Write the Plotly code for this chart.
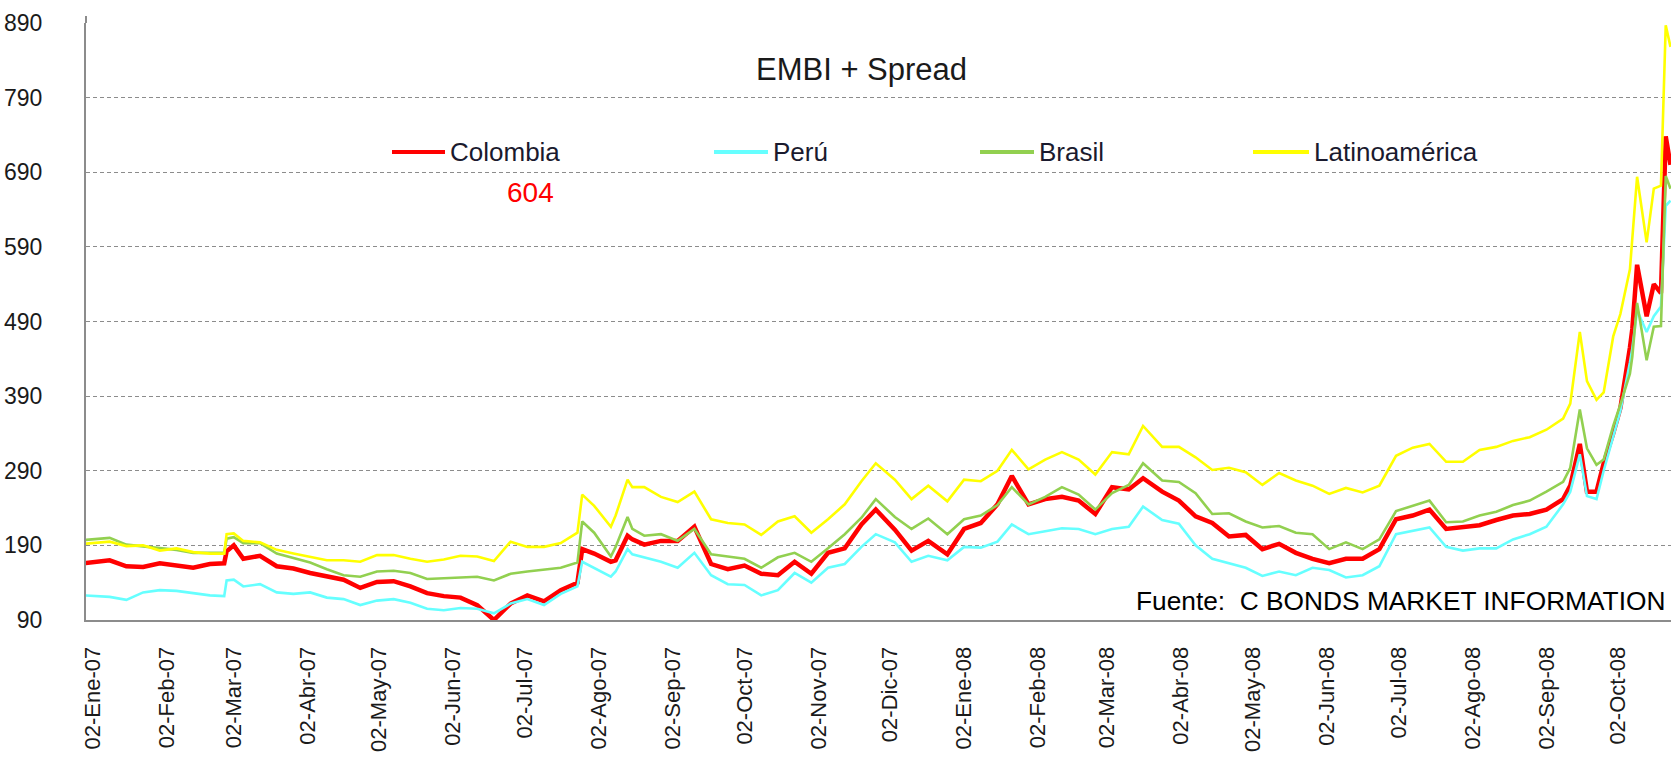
import plotly.graph_objects as go

dates = [
    "2006-12-29", "2007-01-09", "2007-01-16", "2007-01-23", "2007-01-30", "2007-02-06",
    "2007-02-13", "2007-02-20", "2007-02-26", "2007-02-27", "2007-03-02", "2007-03-06",
    "2007-03-13", "2007-03-20", "2007-03-27", "2007-04-03", "2007-04-10", "2007-04-17",
    "2007-04-24", "2007-05-01", "2007-05-08", "2007-05-15", "2007-05-22", "2007-05-29",
    "2007-06-05", "2007-06-12", "2007-06-19", "2007-06-26", "2007-07-03", "2007-07-10",
    "2007-07-17", "2007-07-24", "2007-07-26", "2007-07-31", "2007-08-07", "2007-08-09",
    "2007-08-14", "2007-08-16", "2007-08-21", "2007-08-28", "2007-09-04", "2007-09-11",
    "2007-09-18", "2007-09-25", "2007-10-02", "2007-10-09", "2007-10-16", "2007-10-23",
    "2007-10-30", "2007-11-06", "2007-11-13", "2007-11-20", "2007-11-26", "2007-12-04",
    "2007-12-11", "2007-12-18", "2007-12-26", "2008-01-02", "2008-01-09", "2008-01-16",
    "2008-01-22", "2008-01-29", "2008-02-05", "2008-02-12", "2008-02-19", "2008-02-26",
    "2008-03-04", "2008-03-11", "2008-03-17", "2008-03-25", "2008-04-01", "2008-04-08",
    "2008-04-15", "2008-04-22", "2008-04-29", "2008-05-06", "2008-05-13", "2008-05-20",
    "2008-05-27", "2008-06-03", "2008-06-10", "2008-06-17", "2008-06-24", "2008-07-01",
    "2008-07-08", "2008-07-15", "2008-07-22", "2008-07-29", "2008-08-05", "2008-08-12",
    "2008-08-19", "2008-08-26", "2008-09-02", "2008-09-09", "2008-09-12", "2008-09-16",
    "2008-09-19", "2008-09-23", "2008-09-26", "2008-09-30", "2008-10-03", "2008-10-07",
    "2008-10-08", "2008-10-10", "2008-10-14", "2008-10-17", "2008-10-20", "2008-10-22",
    "2008-10-24",
]

colombia = [
    166, 170, 162, 161, 166, 163, 160, 165, 166, 182, 190, 172,
    176, 162, 159, 153, 148, 144, 133, 141, 142, 135, 126, 122,
    120, 110, 90, 112, 123, 115, 130, 140, 185, 179, 168, 170,
    203, 198, 191, 196, 196, 215, 165, 158, 163, 152, 150, 168,
    152, 180, 186, 218, 238, 211, 183, 196, 178, 212, 220, 245,
    283, 245, 252, 255, 250, 232, 268, 265, 280, 262, 250, 229,
    220, 202, 204, 185, 192, 180, 172, 166, 172, 172, 185, 225,
    230, 238, 212, 214, 217, 224, 230, 232, 238, 252, 270, 326,
    262, 262, 300, 340, 374, 455, 480, 566, 497, 540, 528, 738,
    700,
]

peru = [
    123, 121, 117, 127, 130, 129, 126, 123, 122, 143, 144, 135,
    138, 127, 125, 127, 120, 118, 110, 116, 118, 113, 105, 103,
    106, 105, 99, 112, 118, 110, 125, 135, 168, 160, 148, 155,
    185, 178, 174, 168, 160, 180, 150, 138, 137, 123, 130, 153,
    140, 160, 165, 188, 205, 194, 168, 176, 170, 188, 187, 195,
    218, 205, 209, 213, 212, 205, 212, 215, 242, 224, 219, 190,
    172, 166, 160, 149, 155, 150, 160, 157, 147, 150, 162, 205,
    209, 214, 188, 183, 186, 186, 198, 205, 215, 245, 262, 312,
    256, 252, 290, 335, 370, 435, 454, 505, 476, 497, 510, 645,
    652,
]

brasil = [
    197, 200, 191, 189, 186, 184, 180, 180, 180, 199, 201, 193,
    193, 179, 173, 167, 158, 150, 148, 155, 156, 153, 145, 146,
    147, 148, 143, 152, 155, 157, 160, 167, 222, 207, 175, 188,
    228, 212, 203, 205, 196, 212, 178, 175, 172, 160, 174, 180,
    168, 186, 205, 227, 252, 228, 212, 226, 205, 225, 230, 244,
    268, 245, 255, 268, 258, 238, 260, 271, 300, 277, 275, 260,
    232, 233, 222, 214, 216, 207, 205, 185, 194, 185, 198, 236,
    243, 250, 221, 222, 230, 235, 244, 250, 262, 275, 294, 372,
    320, 298, 305, 350, 379, 420, 443, 515, 438, 483, 484, 685,
    668,
]

latinoamerica = [
    192, 195, 189, 190, 183, 186, 181, 179, 179, 205, 206, 196,
    194, 184, 179, 174, 170, 170, 168, 177, 177, 172, 168, 171,
    176, 175, 169, 195, 188, 188, 193, 207, 258, 243, 215, 230,
    278, 268, 268, 255, 248, 262, 225, 220, 218, 204, 222, 229,
    207, 225, 245, 276, 300, 278, 252, 270, 249, 278, 276, 290,
    318, 292, 305, 315, 305, 285, 315, 312, 350, 322, 322, 308,
    291, 294, 288, 271, 287, 277, 270, 259, 267, 261, 270, 310,
    321, 326, 302, 302, 318, 322, 330, 335, 345, 360, 380, 476,
    410, 385, 395, 470, 500, 560, 604, 684, 596, 668, 672, 887,
    858,
]

tick_dates = [
    "2007-01-02", "2007-02-02", "2007-03-02", "2007-04-02", "2007-05-02", "2007-06-02",
    "2007-07-02", "2007-08-02", "2007-09-02", "2007-10-02", "2007-11-02", "2007-12-02",
    "2008-01-02", "2008-02-02", "2008-03-02", "2008-04-02", "2008-05-02", "2008-06-02",
    "2008-07-02", "2008-08-02", "2008-09-02", "2008-10-02",
]
tick_labels = [
    "02-Ene-07", "02-Feb-07", "02-Mar-07", "02-Abr-07", "02-May-07", "02-Jun-07",
    "02-Jul-07", "02-Ago-07", "02-Sep-07", "02-Oct-07", "02-Nov-07", "02-Dic-07",
    "02-Ene-08", "02-Feb-08", "02-Mar-08", "02-Abr-08", "02-May-08", "02-Jun-08",
    "02-Jul-08", "02-Ago-08", "02-Sep-08", "02-Oct-08",
]
y_ticks = [90, 190, 290, 390, 490, 590, 690, 790, 890]

series = [
    ("Colombia", colombia, "#FF0000", 4.5),
    ("Perú", peru, "#66FFFF", 2.6),
    ("Brasil", brasil, "#92D050", 2.6),
    ("Latinoamérica", latinoamerica, "#FFFF00", 2.6),
]

W, H = 1671, 758
L, R, T, B = 86, 0, 23, 138
PX0, PX1, PY0, PY1 = L, W - R, T, H - B
FONT = "Liberation Sans, Arial, sans-serif"
AXIS_GREY = "#8c8c8c"


def px_x(px):
    return (px - PX0) / (PX1 - PX0)


def px_y(py):
    return (PY1 - py) / (PY1 - PY0)


fig = go.Figure()
for name, vals, color, width in series:
    fig.add_trace(go.Scatter(
        x=dates, y=vals, name=name, mode="lines",
        line=dict(color=color, width=width), showlegend=False,
    ))

# legend drawn at the positions used by the original
legend_pos = [(392, 445), (714, 768), (980, 1034), (1253, 1309)]
shapes = [
    # y axis line reaches slightly above the top gridline, as in the original
    dict(type="line", xref="paper", yref="paper", x0=0, x1=0,
         y0=1, y1=px_y(16), line=dict(color=AXIS_GREY, width=2)),
]
annotations = []
leg_y = 152
for (name, _, color, _w), (x0, x1) in zip(series, legend_pos):
    shapes.append(dict(type="line", xref="paper", yref="paper",
                       x0=px_x(x0), x1=px_x(x1), y0=px_y(leg_y), y1=px_y(leg_y),
                       line=dict(color=color, width=4)))
    annotations.append(dict(text=name, xref="paper", yref="paper",
                            x=px_x(x1 + 3), y=px_y(leg_y), xanchor="left", yanchor="middle",
                            showarrow=False, font=dict(family=FONT, size=26, color="#1a1a2e")))

annotations.append(dict(text="EMBI + Spread", xref="paper", yref="paper",
                        x=px_x(861), y=px_y(69), xanchor="center", yanchor="middle",
                        showarrow=False, font=dict(family=FONT, size=31, color="#1a1a1a")))
annotations.append(dict(text="604", xref="paper", yref="paper",
                        x=px_x(530), y=px_y(192), xanchor="center", yanchor="middle",
                        showarrow=False, font=dict(family=FONT, size=28, color="#FF0000")))
annotations.append(dict(text="Fuente:\u00a0\u00a0C BONDS MARKET INFORMATION", xref="paper", yref="paper",
                        x=px_x(1667), y=px_y(601), xanchor="right", yanchor="middle",
                        showarrow=False, font=dict(family=FONT, size=26.3, color="#000000")))

fig.update_layout(
    width=W, height=H,
    margin=dict(l=L, r=R, t=T, b=B, autoexpand=False),
    paper_bgcolor="white", plot_bgcolor="white",
    shapes=shapes, annotations=annotations,
    font=dict(family=FONT, color="#1a1a1a"),
    xaxis=dict(
        type="date", automargin=False,
        range=["2006-12-30 02:00", "2008-10-24 05:00"],
        tickmode="array", tickvals=tick_dates, ticktext=tick_labels,
        tickangle=-90, tickfont=dict(family=FONT, size=22, color="#1a1a1a"),
        showgrid=False, zeroline=False,
        showline=True, linecolor=AXIS_GREY, linewidth=2,
        ticks="", ticklabelstandoff=16,
    ),
    yaxis=dict(
        automargin=False,
        range=[90, 890],
        tickmode="array", tickvals=y_ticks,
        tickfont=dict(family=FONT, size=23, color="#1a1a1a"),
        showgrid=True, gridcolor=AXIS_GREY, gridwidth=1, griddash="4px,3px",
        zeroline=False,
        showline=True, linecolor=AXIS_GREY, linewidth=2,
        ticks="", ticklabelstandoff=37,
    ),
)

fig.write_html(
    "out.html",
    config={"displayModeBar": False},
    post_script="document.body.style.margin='0px';document.body.style.padding='0px';"
                "document.documentElement.style.overflow='hidden';",
)
